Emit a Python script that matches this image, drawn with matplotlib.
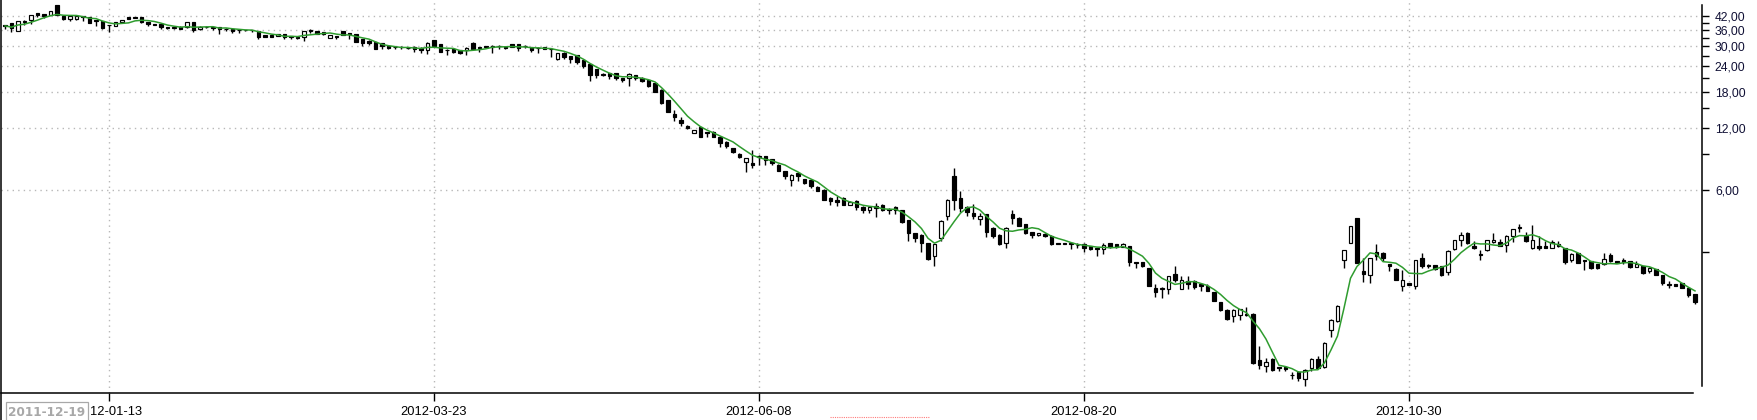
import numpy as np
import pandas as pd
import matplotlib
matplotlib.use('Agg')  # sin pantalla
import matplotlib.pyplot as plt
from matplotlib.lines import Line2D
from matplotlib.patches import Rectangle
from matplotlib.ticker import NullFormatter
from matplotlib.transforms import ScaledTranslation

# Datos diarios (OHLC)
opens = [38.0, 38.8, 35.5, 39.9, 40.2, 43.3, 42.8, 42.6, 47.5, 42.0,
         40.5, 40.5, 42.0, 41.4, 40.2, 39.6, 38.1, 37.7, 39.3, 41.4,
         41.4, 41.4, 39.3, 38.4, 38.3, 37.1, 37.1, 37.3, 37.0, 39.2,
         36.2, 37.3, 37.1, 37.1, 36.5, 36.5, 36.1, 36.0, 36.0, 35.5,
         34.0, 34.0, 33.6, 34.3, 33.5, 33.1, 33.4, 35.8, 35.6, 35.1,
         32.9, 33.5, 35.6, 34.6, 34.4, 32.4, 31.9, 31.5, 31.0, 30.0,
         29.8, 29.8, 29.5, 29.8, 29.5, 28.7, 32.1, 30.6, 28.8, 28.9,
         28.7, 28.7, 31.2, 29.7, 29.9, 29.7, 30.2, 29.7, 30.6, 30.6,
         30.2, 29.7, 29.5, 29.7, 29.2, 26.1, 27.9, 26.8, 27.2, 25.7,
         24.5, 23.2, 22.0, 22.2, 22.2, 20.9, 20.9, 21.6, 21.1, 20.5,
         19.8, 18.4, 16.4, 14.0, 13.1, 12.3, 11.4, 12.2, 11.5, 11.5,
         10.9, 10.3, 9.55, 9.0, 8.25, 8.1, 8.8, 8.75, 8.45, 7.95,
         7.4, 6.7, 7.25, 6.75, 6.7, 6.2, 6.0, 5.5, 5.37, 5.5,
         5.07, 5.3, 4.98, 4.8, 5.0, 5.07, 4.85, 4.95, 4.77, 4.29,
         3.7, 3.63, 3.3, 2.87, 3.5, 4.5, 7.0, 5.5, 4.98, 4.66,
         4.32, 4.57, 3.94, 3.63, 3.3, 4.6, 4.4, 4.1, 3.75, 3.62,
         3.68, 3.6, 3.3, 3.3, 3.31, 3.25, 3.28, 3.2, 3.13, 3.09,
         3.3, 3.26, 3.17, 3.2, 2.67, 2.67, 2.51, 2.0, 1.98, 1.99,
         2.34, 1.99, 2.17, 2.17, 2.09, 2.06, 1.91, 1.71, 1.57, 1.47,
         1.48, 1.49, 1.5, 0.9, 0.84, 0.91, 0.83, 0.83, 0.76, 0.785,
         0.72, 0.82, 0.91, 0.83, 1.25, 1.38, 2.74, 3.33, 4.38, 2.42,
         2.33, 3.0, 2.98, 2.62, 2.48, 2.05, 2.12, 2.05, 2.8, 2.6,
         2.59, 2.56, 2.39, 3.1, 3.41, 3.7, 3.21, 2.94, 3.05, 3.35,
         3.35, 3.24, 3.6, 3.95, 3.6, 3.14, 3.2, 3.19, 3.14, 3.27,
         3.14, 2.74, 2.96, 2.74, 2.71, 2.61, 2.61, 2.9, 2.7, 2.74,
         2.7, 2.54, 2.56, 2.43, 2.48, 2.32, 2.09, 2.09, 2.11, 2.01,
         1.87]
highs = [38.2, 38.9, 39.8, 40.0, 42.5, 43.5, 43.0, 44.5, 47.6, 42.0,
         42.0, 42.1, 42.1, 41.5, 40.3, 39.7, 38.2, 39.3, 40.3, 41.5,
         41.5, 41.5, 39.4, 38.4, 38.4, 37.2, 37.2, 37.4, 39.3, 39.3,
         37.4, 37.4, 37.2, 37.2, 36.6, 36.6, 36.2, 36.0, 36.0, 35.6,
         34.1, 34.1, 34.4, 34.4, 33.5, 33.2, 35.6, 36.2, 35.7, 35.2,
         33.9, 33.5, 35.7, 34.7, 34.5, 32.5, 32.0, 31.6, 31.1, 30.1,
         29.9, 29.9, 29.6, 29.9, 29.6, 31.3, 32.2, 30.7, 28.9, 29.0,
         28.8, 29.6, 31.3, 29.8, 30.0, 30.3, 30.3, 29.8, 30.7, 30.7,
         30.3, 29.8, 29.6, 29.8, 29.3, 27.8, 28.0, 26.9, 27.3, 25.8,
         24.6, 23.3, 22.1, 22.3, 22.3, 21.0, 22.1, 21.7, 21.2, 20.6,
         19.9, 18.5, 16.5, 14.6, 13.6, 12.4, 11.8, 12.3, 11.5, 11.6,
         11.0, 10.4, 9.6, 9.05, 8.6, 9.4, 8.85, 8.8, 8.5, 8.0,
         7.45, 7.15, 7.3, 6.8, 6.75, 6.25, 6.05, 5.55, 5.6, 5.55,
         5.3, 5.35, 5.0, 5.0, 5.2, 5.1, 4.9, 5.0, 4.8, 4.3,
         3.72, 3.65, 3.32, 3.28, 4.27, 5.4, 7.65, 5.9, 5.0, 5.1,
         4.62, 4.6, 3.96, 3.65, 3.96, 4.8, 4.42, 4.12, 3.77, 3.72,
         3.7, 3.62, 3.31, 3.31, 3.32, 3.33, 3.3, 3.21, 3.14, 3.33,
         3.32, 3.28, 3.33, 3.22, 2.68, 2.68, 2.52, 2.1, 2.02, 2.3,
         2.57, 2.3, 2.28, 2.19, 2.1, 2.1, 1.92, 1.72, 1.58, 1.58,
         1.59, 1.62, 1.51, 1.05, 0.92, 0.92, 0.83, 0.84, 0.78, 0.79,
         0.81, 0.92, 0.94, 1.09, 1.41, 1.65, 3.07, 4.02, 4.4, 2.8,
         2.8, 3.27, 3.0, 2.63, 2.5, 2.45, 2.13, 2.75, 2.95, 2.62,
         2.6, 2.57, 3.05, 3.43, 3.77, 3.77, 3.38, 3.07, 3.44, 3.72,
         3.45, 3.61, 3.88, 4.1, 3.77, 4.06, 3.57, 3.4, 3.43, 3.38,
         3.15, 2.95, 2.97, 2.75, 2.72, 2.62, 2.96, 2.96, 2.71, 2.81,
         2.72, 2.7, 2.57, 2.53, 2.49, 2.33, 2.17, 2.1, 2.12, 2.02,
         1.88]
lows = [36.3, 35.0, 35.5, 38.0, 38.4, 41.4, 41.3, 42.4, 42.4, 40.4,
        39.6, 40.4, 39.6, 38.9, 37.6, 36.5, 35.3, 37.6, 39.2, 40.5,
        40.9, 38.8, 37.7, 38.1, 36.4, 36.2, 36.2, 36.3, 36.9, 35.3,
        36.1, 36.6, 35.9, 34.5, 35.6, 34.8, 34.7, 35.7, 35.3, 32.6,
        33.3, 33.3, 33.5, 32.6, 32.4, 32.4, 31.9, 34.7, 34.3, 34.0,
        32.8, 32.4, 34.0, 32.5, 31.4, 30.0, 30.4, 29.1, 29.2, 29.2,
        29.1, 29.2, 29.1, 28.0, 27.7, 27.4, 29.8, 28.1, 27.2, 27.9,
        27.6, 27.2, 29.1, 28.2, 29.3, 27.7, 28.9, 28.9, 29.7, 28.5,
        29.4, 28.2, 27.9, 28.9, 26.7, 25.8, 25.9, 24.7, 24.5, 23.5,
        20.3, 20.9, 21.4, 20.8, 20.6, 20.0, 19.3, 20.5, 20.1, 18.9,
        17.9, 15.7, 14.3, 13.0, 12.3, 11.9, 11.3, 10.8, 10.8, 10.8,
        9.7, 9.6, 9.1, 8.55, 7.35, 7.7, 7.95, 7.95, 7.95, 7.4,
        6.8, 6.3, 6.65, 6.45, 6.1, 5.9, 5.35, 5.05, 5.0, 5.05,
        5.05, 4.8, 4.65, 4.65, 4.45, 4.75, 4.6, 4.6, 4.16, 3.4,
        3.35, 3.0, 2.74, 2.55, 3.4, 4.29, 4.8, 4.7, 4.5, 4.34,
        4.06, 3.53, 3.5, 3.24, 3.12, 4.1, 4.0, 3.68, 3.52, 3.6,
        3.55, 3.25, 3.26, 3.26, 3.1, 3.15, 3.0, 3.08, 2.86, 2.93,
        3.15, 3.15, 3.16, 2.57, 2.5, 2.54, 2.04, 1.82, 1.8, 1.88,
        2.15, 1.98, 1.99, 1.99, 1.94, 1.93, 1.73, 1.55, 1.4, 1.37,
        1.4, 1.46, 0.86, 0.81, 0.78, 0.79, 0.79, 0.79, 0.72, 0.71,
        0.67, 0.79, 0.82, 0.82, 1.16, 1.37, 2.5, 3.32, 2.65, 2.14,
        2.11, 2.74, 2.71, 2.42, 2.19, 1.94, 2.07, 1.99, 2.52, 2.5,
        2.46, 2.3, 2.32, 3.05, 3.21, 3.27, 3.11, 2.74, 3.04, 3.3,
        3.21, 3.0, 3.35, 3.76, 3.37, 3.09, 3.07, 3.14, 3.13, 3.18,
        2.63, 2.68, 2.65, 2.45, 2.49, 2.49, 2.6, 2.69, 2.64, 2.62,
        2.52, 2.53, 2.35, 2.38, 2.31, 2.08, 2.01, 2.04, 2.0, 1.82,
        1.68]
closes = [37.6, 36.6, 39.8, 39.3, 42.5, 42.4, 42.1, 44.3, 42.5, 40.5,
          42.0, 42.0, 41.4, 39.0, 39.6, 36.6, 37.9, 39.2, 40.2, 40.6,
          41.0, 39.3, 38.4, 38.2, 37.0, 36.9, 36.9, 36.4, 39.2, 35.9,
          37.3, 37.1, 36.9, 36.2, 36.3, 35.6, 35.9, 35.8, 35.8, 33.1,
          33.4, 33.4, 34.3, 33.1, 33.2, 32.9, 35.5, 35.6, 34.4, 34.4,
          33.8, 33.3, 34.1, 34.4, 31.5, 31.2, 31.0, 29.2, 30.0, 29.3,
          29.6, 29.6, 29.3, 29.0, 28.7, 31.2, 29.9, 28.2, 28.6, 28.2,
          27.7, 29.5, 29.2, 29.5, 29.7, 30.2, 30.0, 29.5, 29.8, 29.3,
          30.0, 28.7, 29.3, 29.0, 28.9, 27.7, 26.7, 25.9, 25.2, 24.0,
          21.8, 21.8, 21.8, 21.4, 20.9, 20.5, 22.0, 21.0, 20.3, 19.2,
          18.0, 15.8, 14.4, 13.6, 12.7, 12.0, 11.7, 10.9, 11.3, 10.9,
          10.1, 9.85, 9.2, 8.7, 8.55, 7.95, 8.7, 8.35, 8.1, 7.45,
          7.05, 7.1, 7.0, 6.5, 6.25, 5.95, 5.37, 5.3, 5.25, 5.07,
          5.25, 4.95, 4.77, 4.95, 4.88, 4.77, 4.8, 4.77, 4.2, 3.7,
          3.52, 3.3, 2.76, 3.26, 4.25, 5.37, 5.37, 4.9, 4.7, 4.5,
          4.48, 3.73, 3.57, 3.28, 3.94, 4.38, 4.02, 3.7, 3.63, 3.7,
          3.57, 3.27, 3.27, 3.27, 3.28, 3.23, 3.12, 3.09, 3.11, 3.24,
          3.16, 3.16, 3.26, 2.68, 2.65, 2.55, 2.05, 1.91, 2.01, 2.28,
          2.18, 2.18, 2.09, 2.03, 2.06, 1.94, 1.74, 1.56, 1.42, 1.57,
          1.58, 1.48, 0.87, 0.85, 0.88, 0.8, 0.82, 0.81, 0.755, 0.73,
          0.8, 0.91, 0.82, 1.08, 1.4, 1.64, 3.05, 4.0, 2.66, 2.34,
          2.79, 2.87, 2.79, 2.57, 2.2, 2.19, 2.08, 2.74, 2.55, 2.56,
          2.47, 2.32, 3.04, 3.42, 3.63, 3.33, 3.12, 2.9, 3.43, 3.42,
          3.22, 3.6, 3.87, 3.9, 3.38, 3.43, 3.15, 3.15, 3.36, 3.19,
          2.68, 2.94, 2.66, 2.7, 2.5, 2.5, 2.77, 2.7, 2.65, 2.67,
          2.53, 2.62, 2.36, 2.52, 2.32, 2.11, 2.08, 2.05, 2.01, 1.85,
          1.71]

# Etiquetas del eje de tiempo (indice de la barra -> fecha);
# la primera queda tapada en parte por el recuadro, solo se ve "12-01-13"
date_ticks = [16, 66, 116, 166, 216]
date_labels = ['12-01-13', '2012-03-23', '2012-06-08', '2012-08-20', '2012-10-30']
first_date = '2011-12-19'

# Escala de precios
price_ticks = [6, 12, 18, 24, 30, 36, 42]
price_minor = [3, 9, 15, 21, 27, 33, 39]
ma_window = 5

plt.rcParams['font.family'] = ['Liberation Sans', 'DejaVu Sans']

df = pd.DataFrame({'open': opens, 'high': highs, 'low': lows, 'close': closes})
df['ma'] = df['close'].rolling(ma_window, min_periods=1).mean()
x = np.arange(len(df))
up = (df['close'] >= df['open']).values
body_low = np.minimum(df['open'], df['close']).values
body_h = np.abs(df['close'] - df['open']).values

W, H = 1758, 420
fig = plt.figure(figsize=(W / 100, H / 100), dpi=100)
ax = fig.add_axes([1 / W, 27 / H, 1701 / W, 393 / H])
ax.set_yscale('log')
ax.set_ylim(0.619, 50.25)
ax.set_xlim(-0.615, 261.08)

# Velas
ax.vlines(x, df['low'], df['high'], color='black', lw=1.0, zorder=2)
ax.bar(x[up], body_h[up], bottom=body_low[up], width=0.5,
       color='white', edgecolor='black', linewidth=0.85, zorder=3)
ax.bar(x[~up], body_h[~up], bottom=body_low[~up], width=0.5,
       color='black', edgecolor='black', linewidth=0.85, zorder=3)

# Media movil
ax.plot(x, df['ma'], color='#2f9c2f', lw=1.1, zorder=4)

# Eje de precios a la derecha
ax.yaxis.tick_right()
ax.set_yticks(price_ticks)
ax.set_yticklabels([f'{v},00' for v in price_ticks])
ax.set_yticks(price_minor, minor=True)
ax.yaxis.set_minor_formatter(NullFormatter())
ax.tick_params(axis='y', which='both', direction='out', length=5, width=1,
               color='black', pad=4.3, labelsize=8.7, labelcolor='#101035')

# Eje de tiempo
ax.set_xticks(date_ticks)
ax.set_xticklabels(date_labels)
ax.tick_params(axis='x', direction='out', length=5.8, width=1, color='black',
               pad=3.5, labelsize=9.3, labelcolor='black')
# la etiqueta recortada empieza justo despues del recuadro
first_lbl = ax.get_xticklabels()[0]
first_lbl.set_transform(first_lbl.get_transform() +
                        ScaledTranslation(7 / 100, 0, fig.dpi_scale_trans))

ax.grid(axis='both', which='major', color='#b8b8b8', linestyle=(0, (1, 3)), lw=1)

ax.spines['top'].set_visible(False)
ax.spines['left'].set_visible(False)
ax.spines['right'].set_linewidth(1.1)
ax.spines['right'].set_bounds(0.67, 47.5)
ax.spines['bottom'].set_linewidth(1.1)
ax.spines['bottom'].set_bounds(-0.615, 259.7)

# Linea izquierda de toda la altura
fig.add_artist(Line2D([0.8 / W, 0.8 / W], [0, 1], transform=fig.transFigure,
                      color='black', lw=1.1))

# Recuadro con la primera fecha
fig.add_artist(Rectangle((6 / W, -0.01), 82 / W, 18 / H + 0.01, transform=fig.transFigure,
                         facecolor='white', edgecolor='#a8a8a8', lw=0.9, zorder=10))
fig.text(47 / W, 8 / H, first_date, ha='center', va='center', color='#a8a8a8',
         fontsize=8.7, fontweight='bold', family='DejaVu Sans', zorder=11)

# Trozo rojo punteado abajo
fig.add_artist(Line2D([830 / W, 929 / W], [3 / H, 3 / H], transform=fig.transFigure,
                      color='#ff7a7a', lw=0.8, linestyle=(0, (1, 1))))

fig.savefig('out.png', dpi=100)
